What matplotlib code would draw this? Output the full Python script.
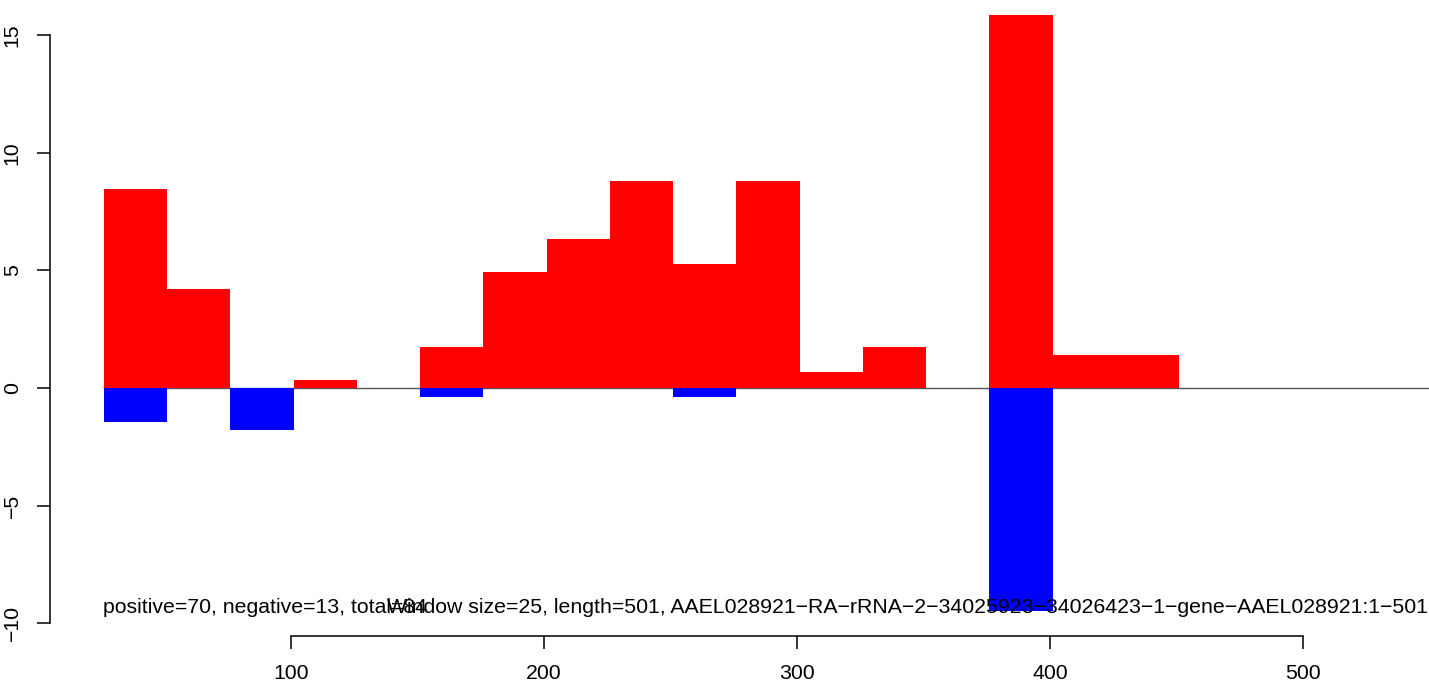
import matplotlib
matplotlib.use("Agg")
import matplotlib.pyplot as plt

plt.rcParams['font.family'] = ['Liberation Sans', 'DejaVu Sans']

# window starts (window size 25)
bin_starts = [26, 51, 76, 101, 126, 151, 176, 201, 226, 251, 276, 301, 326, 351, 376, 401, 426]
positive = [8.46, 4.21, 0, 0.34, 0, 1.74, 4.93, 6.33, 8.80, 5.27, 8.80, 0.68, 1.74, 0, 15.85, 1.40, 1.40]
negative = [-1.44, 0, -1.78, 0, 0, -0.38, 0, 0, 0, -0.38, 0, 0, 0, 0, -9.48, 0, 0]
window = 25
x_ticks = [100, 200, 300, 400, 500]
y_ticks = [-10, -5, 0, 5, 10, 15]
left_note = "positive=70, negative=13, total=84"
right_note = "Window size=25, length=501, AAEL028921\u2212RA\u2212rRNA\u22122\u221234025923\u221234026423\u22121\u2212gene\u2212AAEL028921:1\u2212501"

W, H = 1429, 684
fig = plt.figure(figsize=(W / 100, H / 100), dpi=100)
ax = fig.add_axes([50 / W, (H - 636) / H, (W - 50) / W, 636 / H])

ax.plot([26, 560], [0, 0], color="#555555", lw=1.0, zorder=1)
ax.bar(bin_starts, positive, width=window, align="edge", color="#FF0000", linewidth=0, zorder=2)
ax.bar(bin_starts, negative, width=window, align="edge", color="#0000FF", linewidth=0, zorder=2)

ax.set_xlim(4.74, 549.8)
ax.set_ylim(-10.54, 16.49)

for s in ["top", "right"]:
    ax.spines[s].set_visible(False)
ax.spines["left"].set_bounds(-10, 15)
ax.spines["bottom"].set_bounds(100, 500)
for s in ["left", "bottom"]:
    ax.spines[s].set_linewidth(1.1)
    ax.spines[s].set_color("black")

ax.set_xticks(x_ticks)
ax.set_yticks(y_ticks)
ax.set_xticklabels([str(v) for v in x_ticks])
ax.set_yticklabels([str(v).replace("-", "\u2212") for v in y_ticks], rotation=90, va="center")
ax.tick_params(axis="both", length=9.4, width=1.1, labelsize=15.3, colors="black")
ax.tick_params(axis="x", pad=10.5)
ax.tick_params(axis="y", pad=11)

ax.text(25.8, -9.56, left_note, ha="left", va="baseline", fontsize=15.3, zorder=3)
ax.text(549.4, -9.56, right_note, ha="right", va="baseline", fontsize=15.3, zorder=3)

fig.savefig("out.png", dpi=100)
